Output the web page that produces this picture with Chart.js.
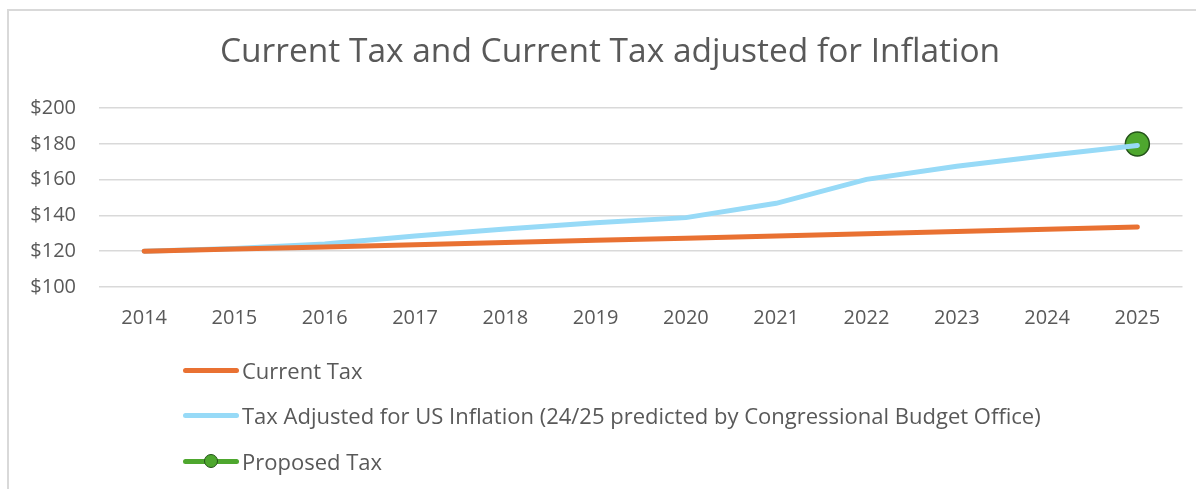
<!DOCTYPE html>
<html>
<head>
<meta charset="utf-8">
<script src="https://cdn.jsdelivr.net/npm/chart.js@4"></script>
<style>
    body { margin: 0; background: #fff; overflow: hidden; }
    #wrap {
        position: relative;
        width: 1196px;
        height: 489px;
        overflow: hidden;
        font-family: 'Open Sans', sans-serif;
        color: #595959;
    }
    #frame {
        position: absolute;
        left: 7px;
        top: 9px;
        width: 1300px;
        height: 600px;
        border: 2px solid #d9d9d9;
    }
    #chart { position: absolute; left: 0; top: 0; }
    .legend-row {
        position: absolute;
        left: 183px;
        height: 24px;
        display: flex;
        align-items: center;
        font-size: 22px;
    }
    .legend-line {
        position: relative;
        width: 56px;
        height: 5px;
        border-radius: 3px;
        margin-right: 3px;
    }
    .legend-dot {
        position: absolute;
        left: 21px;
        top: -5px;
        width: 14px;
        height: 14px;
        border-radius: 50%;
        box-sizing: border-box;
    }
</style>
</head>
<body>
<div id="wrap">
    <div id="frame"></div>
    <canvas id="chart" width="1196" height="489"></canvas>
    <div id="legend"></div>
</div>
<script>
const years = ['2014', '2015', '2016', '2017', '2018', '2019', '2020', '2021', '2022', '2023', '2024', '2025'];
const currentTax = [120, 121.2, 122.4, 123.6, 124.9, 126.1, 127.3, 128.5, 129.8, 131, 132.3, 133.6];
const adjustedTax = [120, 121.5, 124, 128.5, 132.5, 136, 138.8, 146.8, 160.2, 167.5, 173.6, 179.2];
const proposedTax = [null, null, null, null, null, null, null, null, null, null, null, 180];

const orange = '#e97132';
const blue = '#97daf7';
const green = '#4ea72e';
const greenDark = '#24531a';

Chart.defaults.font.family = "'Open Sans', sans-serif";
Chart.defaults.color = '#595959';

// the original chart object is wider than the crop, so its title sits right of centre
const titleShift = {
    id: 'titleShift',
    afterLayout(chart) {
        chart.titleBlock.left = 36;
    }
};

const ctx = document.getElementById('chart').getContext('2d');
const taxChart = new Chart(ctx, {
    type: 'line',
    data: {
        labels: years,
        datasets: [{
            label: 'Current Tax',
            data: currentTax,
            borderColor: orange,
            backgroundColor: orange,
            borderWidth: 5,
            pointRadius: 0,
            borderCapStyle: 'round',
            tension: 0
        },
        {
            label: 'Tax Adjusted for US Inflation (24/25 predicted by Congressional Budget Office)',
            data: adjustedTax,
            borderColor: blue,
            backgroundColor: blue,
            borderWidth: 5,
            pointRadius: 0,
            borderCapStyle: 'round',
            tension: 0
        },
        {
            label: 'Proposed Tax',
            data: proposedTax,
            borderColor: green,
            backgroundColor: green,
            borderWidth: 5,
            pointRadius: 12,
            pointBackgroundColor: green,
            pointBorderColor: greenDark,
            pointBorderWidth: 1.5
        }]
    },
    plugins: [titleShift],
    options: {
        responsive: false,
        animation: false,
        layout: {
            padding: { left: 0, right: 12, top: 0, bottom: 160 }
        },
        plugins: {
            legend: { display: false },
            tooltip: { enabled: false },
            title: {
                display: true,
                text: 'Current Tax and Current Tax adjusted for Inflation',
                font: { size: 33.5, weight: 'normal' },
                color: '#595959',
                padding: { top: 32, bottom: 36 }
            }
        },
        scales: {
            x: {
                offset: true,
                grid: { display: false, drawTicks: false },
                border: { display: false },
                ticks: { font: { size: 20 }, padding: 19, color: '#595959' },
                afterFit: (scale) => { scale.height = 42; }
            },
            y: {
                min: 100,
                max: 200,
                grid: { color: '#d9d9d9', lineWidth: 1.5, drawTicks: false },
                border: { display: false },
                ticks: {
                    stepSize: 20,
                    padding: 23,
                    font: { size: 20 },
                    color: '#595959',
                    callback: (v) => '$' + v
                },
                afterFit: (scale) => { scale.width = 99; }
            }
        }
    }
});

// legend stacked in rows under the chart, as in the original
const legend = document.getElementById('legend');
const rowTops = [358, 403, 449];
taxChart.data.datasets.forEach((ds, i) => {
    const row = document.createElement('div');
    row.className = 'legend-row';
    row.style.top = rowTops[i] + 'px';
    const line = document.createElement('span');
    line.className = 'legend-line';
    line.style.background = ds.borderColor;
    if (ds.pointRadius > 0) {
        const dot = document.createElement('span');
        dot.className = 'legend-dot';
        dot.style.background = ds.pointBackgroundColor;
        dot.style.border = '1.5px solid ' + ds.pointBorderColor;
        line.append(dot);
    }
    const text = document.createElement('span');
    text.textContent = ds.label;
    row.append(line, text);
    legend.append(row);
});
</script>
</body>
</html>
